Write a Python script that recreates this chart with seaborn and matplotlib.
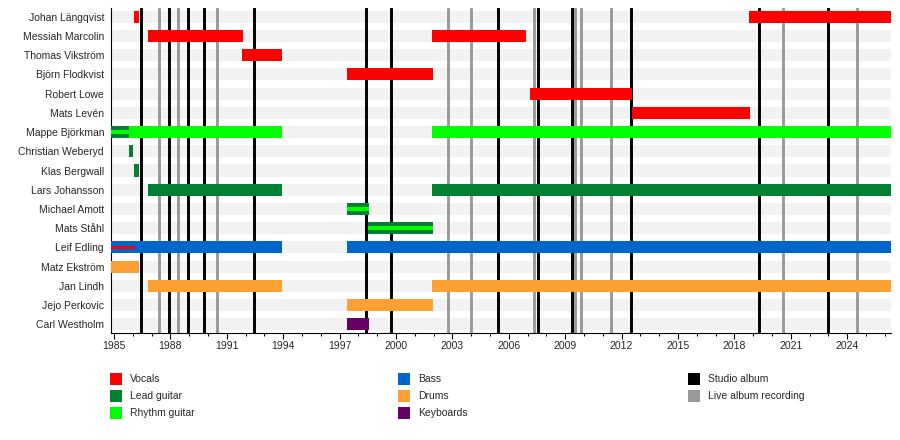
import numpy as np
import pandas as pd
import matplotlib
matplotlib.use("Agg")
import matplotlib.pyplot as plt
from matplotlib.patches import Rectangle
from matplotlib.ticker import MultipleLocator
import seaborn as sns

# timeline limits
START = 1984.84
END = 2026.33

members = ["Johan Längqvist", "Messiah Marcolin", "Thomas Vikström", "Björn Flodkvist",
           "Robert Lowe", "Mats Levén", "Mappe Björkman", "Christian Weberyd",
           "Klas Bergwall", "Lars Johansson", "Michael Amott", "Mats Ståhl",
           "Leif Edling", "Matz Ekström", "Jan Lindh", "Jejo Perkovic", "Carl Westholm"]

roles = ["Vocals", "Lead guitar", "Rhythm guitar", "Bass", "Drums", "Keyboards"]
role_colors = ["#ff0000", "#008033", "#00ff00", "#0066cc", "#ffa033", "#660066"]

# main bars
span_member = ["Johan Längqvist", "Johan Längqvist", "Messiah Marcolin", "Messiah Marcolin",
               "Thomas Vikström", "Björn Flodkvist", "Robert Lowe", "Mats Levén",
               "Mappe Björkman", "Mappe Björkman", "Mappe Björkman", "Christian Weberyd",
               "Klas Bergwall", "Lars Johansson", "Lars Johansson", "Michael Amott",
               "Mats Ståhl", "Leif Edling", "Leif Edling", "Matz Ekström",
               "Jan Lindh", "Jan Lindh", "Jejo Perkovic", "Carl Westholm"]
span_start = [1986.06, 2018.79, 1986.83, 2001.91,
              1991.83, 1997.39, 2007.13, 2012.55,
              START, 1985.8, 2001.91, 1985.8,
              1986.06, 1986.83, 2001.91, 1997.39,
              1998.52, START, 1997.39, START,
              1986.83, 2001.91, 1997.39, 1997.39]
span_end = [1986.31, END, 1991.85, 2006.91,
            1993.94, 2001.97, 2012.55, 2018.81,
            1985.8, 1993.94, END, 1986.0,
            1986.31, 1993.94, END, 1998.56,
            2001.97, 1993.94, END, 1986.31,
            1993.94, END, 2001.97, 1998.56]
span_role = ["Vocals", "Vocals", "Vocals", "Vocals",
             "Vocals", "Vocals", "Vocals", "Vocals",
             "Lead guitar", "Rhythm guitar", "Rhythm guitar", "Lead guitar",
             "Lead guitar", "Lead guitar", "Lead guitar", "Lead guitar",
             "Lead guitar", "Bass", "Bass", "Drums",
             "Drums", "Drums", "Drums", "Keyboards"]

# thin secondary-role stripes
stripe_member = ["Mappe Björkman", "Michael Amott", "Mats Ståhl", "Leif Edling"]
stripe_start = [START, 1997.39, 1998.52, START]
stripe_end = [1985.8, 1998.56, 2001.97, 1986.1]
stripe_role = ["Rhythm guitar", "Rhythm guitar", "Rhythm guitar", "Vocals"]

studio_albums = [1986.45, 1987.9, 1988.95, 1989.77, 1992.46, 1998.4, 1999.75,
                 2005.4, 2007.57, 2009.34, 2012.52, 2019.29, 2022.99]
live_albums = [1987.4, 1988.4, 1990.5, 2002.74, 2004.0, 2007.33, 2009.52,
               2009.84, 2011.42, 2020.6, 2024.54]

spans = pd.DataFrame({"member": span_member, "start": span_start,
                      "end": span_end, "role": span_role})
stripes = pd.DataFrame({"member": stripe_member, "start": stripe_start,
                        "end": stripe_end, "role": stripe_role})
palette = dict(zip(roles, role_colors))
row = {m: i for i, m in enumerate(members)}

sns.set_theme(style="white")
plt.rcParams['font.family'] = ['Liberation Sans', 'DejaVu Sans']

fig = plt.figure(figsize=(9, 4.4), dpi=100)
ax = fig.add_axes([111 / 900, 1 - 333 / 440, 780 / 900, 325 / 440])

bar_h = 0.63
# row backgrounds
ax.barh(np.arange(len(members)), END - START, left=START, height=bar_h,
        color="#f2f2f2", linewidth=0, zorder=0)

for x in live_albums:
    ax.axvline(x, color="#999999", lw=2.1, zorder=1)
for x in studio_albums:
    ax.axvline(x, color="black", lw=2.1, zorder=2)

ax.barh(spans["member"].map(row), spans["end"] - spans["start"], left=spans["start"],
        height=bar_h, color=spans["role"].map(palette), linewidth=0, zorder=3)
ax.barh(stripes["member"].map(row), stripes["end"] - stripes["start"], left=stripes["start"],
        height=0.2, color=stripes["role"].map(palette), linewidth=0, zorder=4)

ax.set_xlim(START, END)
ax.set_ylim(16.45, -0.45)
ax.set_yticks(np.arange(len(members)))
ax.set_yticklabels(members, fontsize=7.5)
ax.tick_params(axis="y", length=0, pad=5)
ax.xaxis.set_major_locator(MultipleLocator(3))
ax.xaxis.set_minor_locator(MultipleLocator(1))
ax.tick_params(axis="x", which="major", direction="out", length=4, width=0.8,
               labelsize=7.5, pad=2, bottom=True, color="black")
ax.tick_params(axis="x", which="minor", direction="out", length=2.5, width=0.8,
               bottom=True, color="black")
ax.set_xticks([1985 + 3 * k for k in range(14)])
for side in ["top", "right"]:
    ax.spines[side].set_visible(False)
for side in ["left", "bottom"]:
    ax.spines[side].set_color("black")
    ax.spines[side].set_linewidth(0.8)
ax.grid(False)

# legend drawn as three columns
legend_labels = roles + ["Studio album", "Live album recording"]
legend_colors = role_colors + ["black", "#999999"]
col_x = [110, 398, 688]
row_y = [379, 396, 413]
for i, (lab, col) in enumerate(zip(legend_labels, legend_colors)):
    cx = col_x[i // 3]
    cy = row_y[i % 3]
    fig.patches.append(Rectangle((cx / 900, 1 - (cy + 6) / 440), 12 / 900, 12 / 440,
                                 transform=fig.transFigure, color=col, linewidth=0))
    fig.text((cx + 20) / 900, 1 - cy / 440, lab, fontsize=7.5, va="center", ha="left")

fig.savefig("out.png", dpi=100)
